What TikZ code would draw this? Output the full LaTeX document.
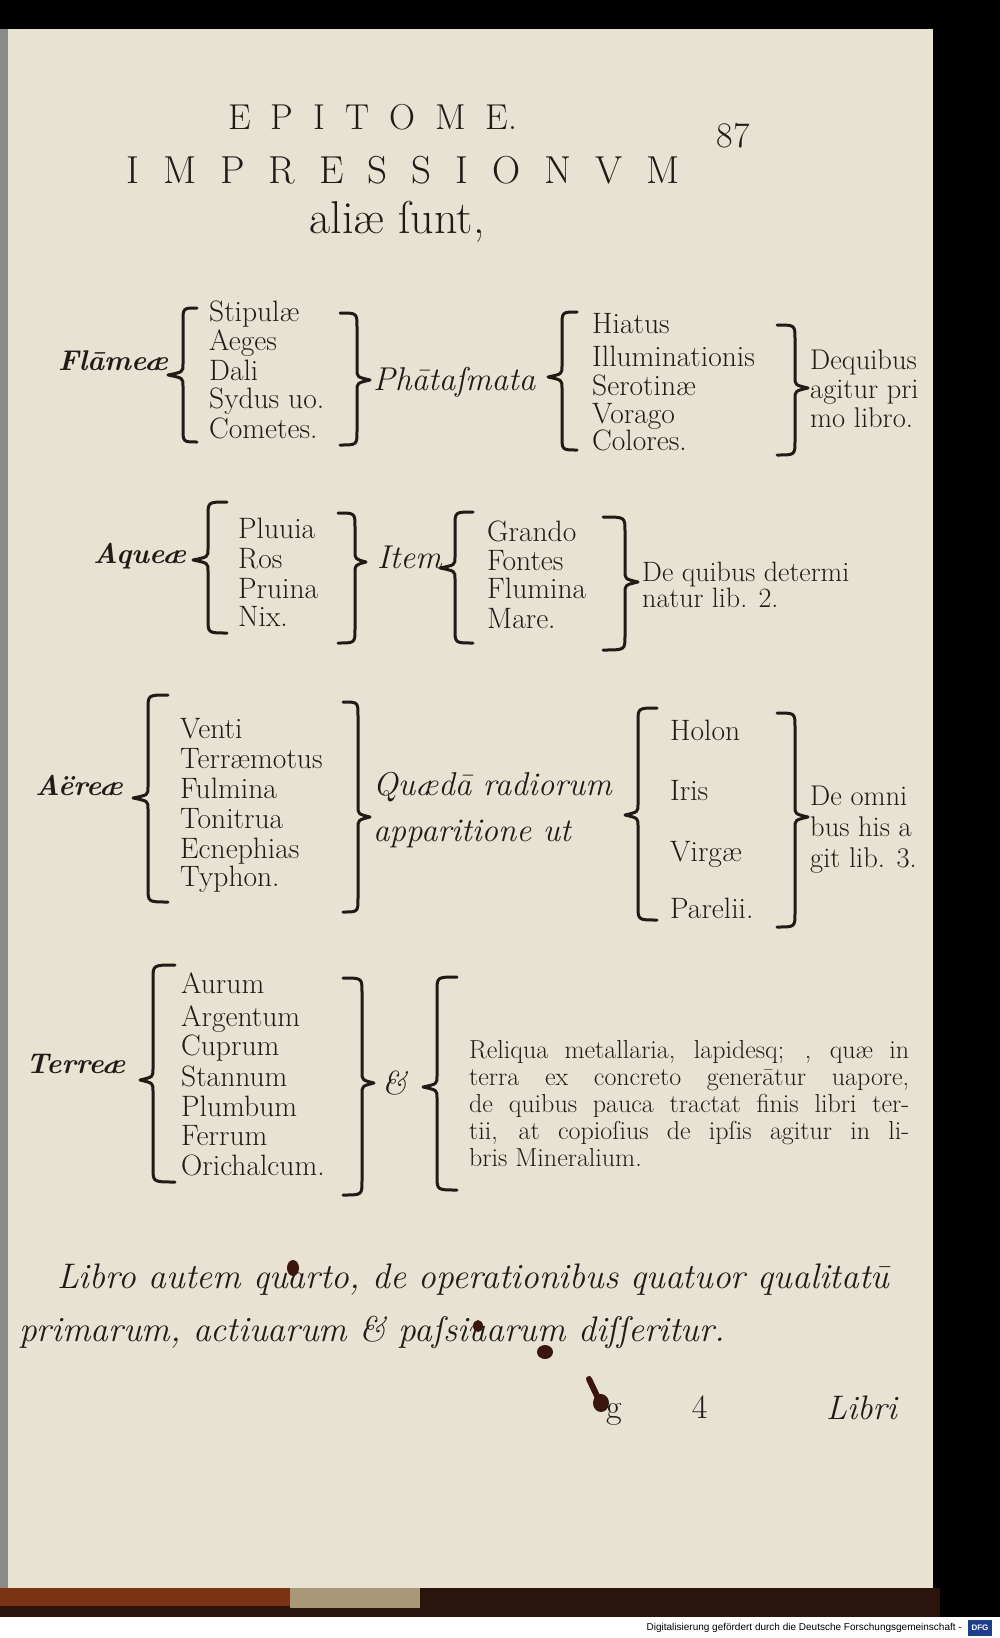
\documentclass[tikz,border=0pt]{standalone}
\usepackage{fontspec}
\newfontfamily\footfont{Liberation Sans}
\definecolor{paper}{HTML}{E8E2D2}
\definecolor{ink}{HTML}{1F1B16}
\definecolor{blot}{HTML}{3A160C}
\definecolor{dfgblue}{HTML}{1F3F8C}
\definecolor{edgegray}{HTML}{8A8A86}
\definecolor{strip}{HTML}{2A140C}
\definecolor{stripbrown}{HTML}{7A3414}
\definecolor{striplight}{HTML}{A89878}
\tikzset{
 txt/.style={inner sep=0pt, text=ink, anchor=west},
 itm/.style={txt, anchor=base west, font=\fontsize{29.5}{30}\selectfont},
 lab/.style={txt, anchor=base west, font=\fontsize{28.5}{30}\selectfont\bfseries\itshape},
 mid/.style={txt, font=\fontsize{33}{46}\selectfont\itshape, align=left},
 note/.style={txt, font=\fontsize{28.5}{29}\selectfont, align=left},
 bigit/.style={txt, font=\fontsize{35.5}{40}\selectfont\itshape},
 brace/.style={draw=ink, line width=3pt, line cap=round, line join=round},
}
% spine x, top y, bottom y, tip x, tip y, hook x
\newcommand\mybrace[6]{%
 \draw[brace] (#6,#2) .. controls (#1,#2) .. (#1,#2+14) -- (#1,#5-11)
   .. controls (#1,#5-3) .. (#4,#5) .. controls (#1,#5+3) .. (#1,#5+11)
   -- (#1,#3-14) .. controls (#1,#3) .. (#6,#3);}
\newcommand\gapA{\hspace{20pt}}
\newcommand\gapB{\hspace{24pt}}
\begin{document}
\begin{tikzpicture}[x=1pt,y=-1pt]
\useasboundingbox (0,0) rectangle (1000,1638);
% background and page
\fill[black] (0,0) rectangle (1000,1638);
\fill[edgegray] (0,29) rectangle (9,1588);
\fill[paper] (8,29) rectangle (933,1588);
\fill[strip] (0,1588) rectangle (940,1617);
\fill[stripbrown] (0,1588) rectangle (290,1606);
\fill[striplight] (290,1588) rectangle (420,1608);
\fill[white] (0,1617) rectangle (1000,1638);
\node[font=\footfont\fontsize{10}{12}\selectfont, anchor=east, inner sep=0pt, text=black] (foot) at (962,1628) {Digitalisierung gefördert durch die Deutsche Forschungsgemeinschaft -};
\node[fill=dfgblue, text=white, font=\footfont\bfseries\fontsize{8}{9}\selectfont, minimum width=24pt, minimum height=16pt, inner sep=0pt] (dfg) at (980,1628) {DFG};

% header
\node[inner sep=0pt, text=ink, font=\fontsize{36}{40}\selectfont] (epitome) at (373,117) {E\gapA P\gapA I\gapA T\gapA O\gapA M\gapA E.};
\node[inner sep=0pt, text=ink, font=\fontsize{36}{40}\selectfont] (pagenum) at (733,136) {87};
\node[inner sep=0pt, text=ink, font=\fontsize{39}{44}\selectfont] (impr) at (403,170) {I\gapB M\gapB P\gapB R\gapB E\gapB S\gapB S\gapB I\gapB O\gapB N\gapB V\gapB M};
\node[inner sep=0pt, text=ink, font=\fontsize{46}{50}\selectfont] (aliae) at (397,222) {aliæ ſunt,};

% Row 1
\node[lab] (flamee) at (58,370) {Flāmeæ};
\mybrace{183}{308}{442}{168}{375}{197}
\foreach \t/\y [count=\i] in {Stipulæ/321,Aeges/350,Dali/380,Sydus uo./408,Cometes./438}
  \node[itm] (fl\i) at (209,\y) {\t};
\mybrace{357}{313}{445}{370}{380}{340}
\node[mid, anchor=base west] (phant) at (373,390) {Phātaſmata};
\mybrace{562}{312}{450}{548}{377}{577}
\foreach \t/\y [count=\i] in {Hiatus/333,Illuminationis/366,Serotinæ/395,Vorago/423,Colores./450}
  \node[itm] (ph\i) at (592,\y) {\t};
\mybrace{795}{325}{455}{808}{388}{777}
\node[note] (dequibus) at (810,389) {Dequibus\\agitur pri\\mo libro.};

% Row 2
\node[lab] (aquee) at (93,563) {Aqueæ};
\mybrace{208}{502}{633}{193}{560}{227}
\foreach \t/\y [count=\i] in {Pluuia/538,Ros/568,Pruina/598,Nix./626}
  \node[itm] (aq\i) at (238,\y) {\t};
\mybrace{355}{513}{643}{366}{562}{338}
\node[mid, anchor=base west] (item) at (377,568) {Item};
\mybrace{455}{512}{643}{440}{568}{473}
\foreach \t/\y [count=\i] in {Grando/541,Fontes/570,Flumina/598,Mare./628}
  \node[itm] (it\i) at (487,\y) {\t};
\mybrace{625}{517}{650}{638}{582}{603}
\node[note, font=\fontsize{28}{26}\selectfont] (determi) at (642,585) {De quibus determi\\natur lib. 2.};

% Row 3
\node[lab] (aeree) at (35,795) {Aëreæ};
\mybrace{148}{695}{902}{133}{798}{168}
\foreach \t/\y [count=\i] in {Venti/738,Terræmotus/768,Fulmina/798,Tonitrua/828,Ecnephias/858,Typhon./886}
  \node[itm] (ae\i) at (180,\y) {\t};
\mybrace{358}{702}{912}{370}{817}{343}
\node[mid] (radiorum) at (373,810) {Quædā radiorum\\apparitione ut};
\mybrace{638}{708}{920}{625}{815}{657}
\foreach \t/\y [count=\i] in {Holon/740,Iris/800,Virgæ/861,Parelii./918}
  \node[itm] (ra\i) at (670,\y) {\t};
\mybrace{795}{713}{927}{808}{817}{777}
\node[note, font=\fontsize{28.5}{31}\selectfont] (deomni) at (810,830) {De omni\\bus his a\\git lib. 3.};

% Row 4
\node[lab] (terree) at (26,1073) {Terreæ};
\mybrace{153}{965}{1182}{140}{1080}{175}
\foreach \t/\y [count=\i] in {Aurum/993,Argentum/1026,Cuprum/1055,Stannum/1086,Plumbum/1116,Ferrum/1145,Orichalcum./1175}
  \node[itm] (te\i) at (181,\y) {\t};
\mybrace{362}{978}{1195}{374}{1083}{343}
\node[mid, anchor=base west] (et) at (382,1094) {\&};
\mybrace{437}{977}{1190}{423}{1087}{457}
\node[txt, font=\fontsize{26}{27}\selectfont, align=left] (reliqua) at (469,1104)
 {\makebox[440pt][s]{Reliqua metallaria, lapidesq; , quæ in}\\
  \makebox[440pt][s]{terra ex concreto generātur uapore,}\\
  \makebox[440pt][s]{de quibus pauca tractat finis libri ter-}\\
  \makebox[440pt][s]{tii, at copioſius de ipſis agitur in li-}\\
  bris Mineralium.};

% bottom text
\node[bigit] (libro1) at (57,1280) {Libro autem quarto, de operationibus quatuor qualitatū};
\node[bigit] (libro2) at (19,1332) {primarum, actiuarum \& paſsiuarum diſſeritur.};
\node[txt, font=\fontsize{34}{38}\selectfont] (sig) at (606,1411) {g\hspace{70pt}4};
\node[bigit, font=\fontsize{34}{38}\selectfont\itshape] (libri) at (826,1408) {Libri};

% ink blots
\fill[blot] (293,1268) ellipse (6 and 8);
\fill[blot] (478,1326) ellipse (5 and 6);
\fill[blot] (545,1352) ellipse (8 and 7);
\draw[blot, line width=6pt, line cap=round] (589,1379) -- (598,1398);
\fill[blot] (601,1403) ellipse (8 and 9);
\end{tikzpicture}
\end{document}
